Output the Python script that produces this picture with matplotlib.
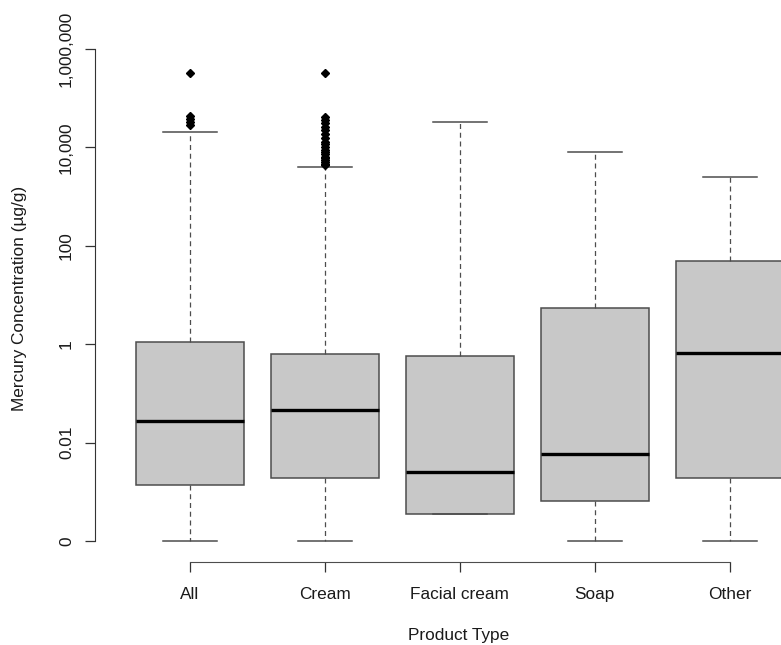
import numpy as np
import matplotlib
matplotlib.use("Agg")
import matplotlib.pyplot as plt

# box statistics (mercury, ug/g, log scale)
groups = ["All", "Cream", "Facial cream", "Soap", "Other"]
q1 = [0.00136, 0.0019, 0.00035, 0.00064, 0.0019]
med = [0.028, 0.046, 0.0025, 0.0059, 0.66]
q3 = [1.11, 0.64, 0.57, 5.5, 48]
whislo = [1e-4, 1e-4, 0.00035, 1e-4, 1e-4]
whishi = [20500, 3900, 33000, 8200, 2540]
fliers = [
    [320000, 43000, 38000, 33000, 28000],
    [320000, 42000, 36000, 31000, 26000, 22000, 18500, 15500, 13000, 11500,
     10000, 9000, 8000, 7200, 6500, 6000, 5500, 5000, 4600, 4300],
    [], [], [],
]
ytick_vals = [1e-4, 1e-2, 1, 1e2, 1e4, 1e6]
ytick_labels = ["0", "0.01", "1", "100", "10,000", "1,000,000"]

plt.rcParams['font.family'] = ['Liberation Sans', 'DejaVu Sans']

fig = plt.figure(figsize=(7.81, 6.45), dpi=100)
W, H = 781, 645
# axes placed in pixel terms, right edge runs past the figure like the reference
ax = fig.add_axes([95 / W, (H - 562) / H, (824.5 - 95) / W, (562 - 44) / H])

stats = []
for i in range(len(groups)):
    stats.append(dict(med=med[i], q1=q1[i], q3=q3[i], whislo=whislo[i],
                      whishi=whishi[i], fliers=fliers[i], label=groups[i]))

edge = "#4d4d4d"
ax.bxp(stats, positions=range(1, 6), widths=0.8, capwidths=0.4,
       patch_artist=True,
       boxprops=dict(facecolor="#c8c8c8", edgecolor=edge, linewidth=1.1),
       medianprops=dict(color="black", linewidth=2.4, solid_capstyle="butt"),
       whiskerprops=dict(color=edge, linestyle=(0, (4, 3)), linewidth=0.9),
       capprops=dict(color=edge, linewidth=1.1),
       flierprops=dict(marker="D", markersize=3.6, markerfacecolor="black",
                       markeredgecolor="black"))

ax.set_yscale("log")
ax.set_xlim(0.3, 5.7)
ax.set_ylim(10 ** -4.427, 10 ** 6.1)
ax.set_yticks(ytick_vals)
ax.set_yticklabels(ytick_labels)
ax.minorticks_off()
ax.set_xticks(range(1, 6))
ax.set_xticklabels(groups)

for s in ["top", "right"]:
    ax.spines[s].set_visible(False)
ax.spines["left"].set_bounds(1e-4, 1e6)
ax.spines["bottom"].set_bounds(1, 5)
ax.spines["left"].set_color("#333333")
ax.spines["bottom"].set_color(edge)
ax.tick_params(axis="both", direction="out", length=7.2, width=0.9,
               colors="#333333", labelcolor="#1a1a1a", labelsize=12.4)
ax.tick_params(axis="x", pad=10.5)
ax.tick_params(axis="y", pad=8)
for lab in ax.get_yticklabels():
    lab.set_rotation(90)
    lab.set_va("center")

fig.text(20 / W, (H - 298) / H, "Mercury Concentration (µg/g)", rotation=90,
         ha="center", va="center", fontsize=12.4, color="#1a1a1a")
fig.text(459 / W, (H - 635.5) / H, "Product Type", ha="center", va="center",
         fontsize=12.4, color="#1a1a1a")

fig.savefig("out.png", dpi=100)
